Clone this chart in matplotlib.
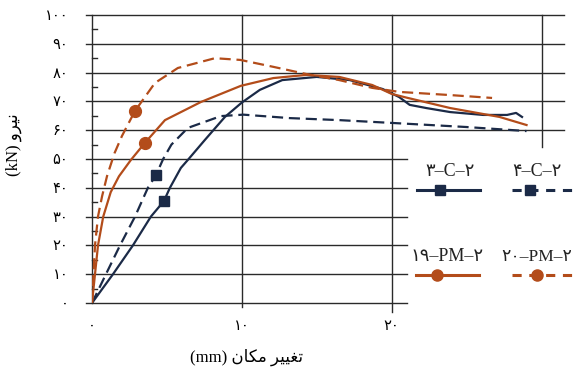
import matplotlib
matplotlib.use("Agg")
from matplotlib import pyplot as plt

# Persian digits used on the chart
FA = str.maketrans("0123456789", "۰۱۲۳۴۵۶۷۸۹")

# 3-C-2 (solid navy)
c3_x = [0, 1.4, 2.73, 3.93, 4.8, 5.2, 5.93, 6.4, 7.53, 8.87, 10.0, 11.2, 12.7, 15.0,
        17.2, 19.4, 20.5, 21.2, 22.3, 23.9, 26.1, 27.7, 28.3, 28.7]
c3_y = [0, 10, 20, 30, 35.4, 40, 46.9, 49.7, 56.6, 64.6, 69.6, 74.0, 77.4, 78.5,
        77.4, 74.3, 71.5, 68.8, 67.7, 66.3, 65.3, 65.3, 66.0, 64.6]

# 4-C-2 (dashed navy)
c4_x = [0, 0.93, 1.87, 2.87, 3.73, 4.27, 4.75, 5.3, 6.4, 8.6, 10.1, 13.2, 16.5, 20.1, 25.0, 29.0]
c4_y = [0, 10, 20, 30, 40, 44.4, 50.0, 55.0, 60.8, 64.9, 65.4, 64.2, 63.5, 62.5, 61.1, 59.7]

# 19-PM-2 (solid brown)
p19_x = [0, 0.2, 0.4, 0.75, 1.25, 1.8, 2.6, 3.53, 4.87, 7.27, 9.93, 12.1, 14.3, 16.5,
         18.7, 20.0, 21.0, 23.9, 27.2, 29.0]
p19_y = [0, 10, 20, 30, 38.5, 44.0, 49.7, 55.6, 63.5, 69.8, 75.4, 78.1, 79.2, 78.5,
         75.7, 72.6, 71.3, 67.7, 64.6, 61.8]

# 20-PM-2 (dashed brown)
p20_x = [0, 0.1, 0.2, 0.4, 0.67, 1.0, 1.5, 2.0, 2.87, 4.2, 5.73, 8.2, 9.9, 12.1, 14.3,
         16.5, 18.7, 20.5, 23.9, 26.7]
p20_y = [0, 10, 20, 30, 37, 44, 52, 58, 66.7, 76.4, 81.6, 85.0, 84.4, 82.0, 79.5,
         77.4, 74.7, 73.3, 72.2, 71.2]

# marker positions (one per curve)
marks = {"c3": (4.8, 35.4), "c4": (4.27, 44.4), "p19": (3.53, 55.6), "p20": (2.87, 66.7)}

y_ticks = list(range(0, 101, 10))
x_ticks = [0, 10, 20]

NAVY = "#1b2a47"
BROWN = "#b34c1a"
GRID = "#2a2a2a"
FONT = ["Liberation Serif", "DejaVu Sans"]

plt.rcParams["font.family"] = FONT

fig = plt.figure(figsize=(5.76, 3.72), dpi=100)
ax = fig.add_axes([92 / 576, 69 / 372, 472 / 576, 288 / 372])
ax.set_xlim(0, 31.5)
ax.set_ylim(0, 100)
for s in ax.spines.values():
    s.set_visible(False)

# grid, drawn by hand because the legend area cuts the lower lines
for y in y_ticks:
    right = 31.5 if y >= 60 else 21.0
    ax.plot([-0.4, right], [y, y], color=GRID, lw=1.0, clip_on=False, zorder=1)
for y in range(5, 100, 10):
    ax.plot([0, 0.33], [y, y], color=GRID, lw=1.0, clip_on=False, zorder=1)
ax.plot([0, 0], [0, 100], color=GRID, lw=1.0, clip_on=False, zorder=1)
ax.plot([10, 10], [-1.5, 100], color=GRID, lw=1.0, clip_on=False, zorder=1)
ax.plot([20, 20], [-3, 100], color=GRID, lw=1.0, clip_on=False, zorder=1)
ax.plot([30, 30], [54, 100], color=GRID, lw=1.0, clip_on=False, zorder=1)

ax.set_yticks(y_ticks, [str(v).translate(FA) for v in y_ticks])
ax.set_xticks(x_ticks, [str(v).translate(FA) for v in x_ticks])
ax.tick_params(axis="y", length=0, pad=17, labelsize=10.5)
ax.tick_params(axis="x", length=0, pad=12, labelsize=10.5)

lw = 1.6
dash = (5, 2.6)
ax.plot(c3_x, c3_y, color=NAVY, lw=lw, zorder=3)
ax.plot(c4_x, c4_y, color=NAVY, lw=lw, dashes=dash, zorder=3)
ax.plot(p19_x, p19_y, color=BROWN, lw=lw, zorder=3)
ax.plot(p20_x, p20_y, color=BROWN, lw=lw, dashes=dash, zorder=3)

for key in ("c3", "c4"):
    ax.plot(*marks[key], marker="s", ms=7, color=NAVY, zorder=4)
for key in ("p19", "p20"):
    ax.plot(*marks[key], marker="o", ms=8.5, color=BROWN, zorder=4)

# legend drawn inside the open area at the lower right
def legend_item(x0, x1, xm, y, color, marker, dashed, text, tx, ha, fs=13):
    kw = dict(color=color, lw=2.2, clip_on=False, zorder=4)
    if dashed:
        kw["dashes"] = (3, 2.5)
    ax.plot([x0, x1], [y, y], **kw)
    ax.plot(xm, y, marker=marker, ms=8 if marker == "o" else 7, color=color,
            clip_on=False, zorder=5)
    ax.text(tx, y + 6.3, text, ha=ha, va="center", fontsize=fs, color="#222222",
            clip_on=False)

legend_item(21.7, 25.9, 23.2, 39.2, NAVY, "s", False, "۳–C–۲", 23.9, "center")
legend_item(28.0, 33.0, 29.2, 39.2, NAVY, "s", True, "۴–C–۲", 29.7, "center")
legend_item(21.6, 25.8, 23.0, 9.7, BROWN, "o", False, "۱۹–PM–۲", 23.7, "center")
legend_item(28.0, 33.0, 29.7, 9.7, BROWN, "o", True, "۲۰–PM–۲", 27.3, "left", fs=12.5)

# axis titles (Persian shaped by hand with presentation forms)
xlabel = "(mm) " + "\uFEE5\uFE8E\uFB91\uFEE3" + " " + "\uFEAE\uFBFF\uFBFF\uFED0\uFE97"
ylabel = "(kN) " + "\uFEED\uFEAE\uFBFF\uFEE7"
fig.text(247 / 576, 1 - 357 / 372, xlabel, ha="center", va="center", fontsize=12)
fig.text(14 / 576, 1 - 145 / 372, ylabel, ha="center", va="center", fontsize=12,
         rotation=90)

fig.savefig("out.png", dpi=100)
